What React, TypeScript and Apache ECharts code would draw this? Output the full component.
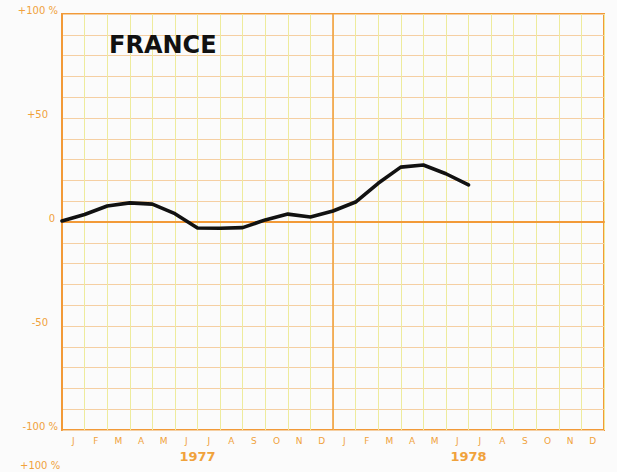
import React, { useEffect, useRef } from "react";
import * as echarts from "echarts";

const monthLabels = ["J","F","M","A","M","J","J","A","S","O","N","D","J","F","M","A","M","J","J","A","S","O","N","D"];
const yearLabels = ["1977", "1978"];
// values at month boundaries, starting Jan 1977 (index 0) through end of June 1978 (index 18)
const franceValues = [0.5, 3.6, 7.7, 9.2, 8.6, 4, -2.9, -3, -2.7, 1, 3.8, 2.4, 5.3, 9.6, 18.6, 26.4, 27.4, 23.2, 17.8];
const yLabelMap: Record<number, string> = { 100: "+100 %", 50: "+50", 0: "0", [-50]: "-50", [-100]: "-100 %" };

const ORANGE = "#f29a38";
const LABEL = "#f0a23c";

export default function App() {
  const ref = useRef<HTMLDivElement>(null);
  useEffect(() => {
    if (!ref.current) return;
    const chart = echarts.init(ref.current, null, { renderer: "svg" });
    const data = franceValues.map((v, i) => [i, v]);
    chart.setOption({
      animation: false,
      backgroundColor: "#fbfbfb",
      grid: { left: 62, right: 13, top: 14, bottom: 42, show: true, borderColor: ORANGE, borderWidth: 2, backgroundColor: "transparent" },
      xAxis: [
        {
          type: "value", min: 0, max: 24, interval: 1, position: "bottom",
          axisLine: { show: true, lineStyle: { color: ORANGE, width: 2 } },
          axisTick: { show: false }, axisLabel: { show: false },
          splitLine: { show: true, lineStyle: { color: "#eeeb9c", width: 1 } },
        },
        {
          type: "category", data: monthLabels, boundaryGap: true, position: "bottom",
          axisLine: { show: false }, axisTick: { show: false }, splitLine: { show: false },
          axisLabel: { color: LABEL, fontSize: 9, fontFamily: "DejaVu Sans", margin: 6, interval: 0 },
        },
        {
          type: "category", data: yearLabels, boundaryGap: true, position: "bottom", offset: 18,
          axisLine: { show: false }, axisTick: { show: false }, splitLine: { show: false },
          axisLabel: { color: LABEL, fontSize: 13, fontWeight: "bold", fontFamily: "DejaVu Sans", margin: 2, interval: 0 },
        },
      ],
      yAxis: {
        type: "value", min: -100, max: 100, interval: 10,
        axisLine: { show: true, lineStyle: { color: ORANGE, width: 2 } },
        axisTick: { show: false },
        splitLine: { show: true, lineStyle: { color: "#f5cfa2", width: 1 } },
        axisLabel: {
          margin: 4, color: LABEL, fontSize: 10, fontFamily: "DejaVu Sans",
          formatter: (v: number) => {
            const s = yLabelMap[v];
            if (s === undefined) return "";
            if (Math.abs(v) === 50) return "{f|" + s + "}";
            if (v === 0) return "{z|" + s + "}";
            return "{a|" + s + "}";
          },
          rich: {
            a: { color: LABEL, fontSize: 10, fontFamily: "DejaVu Sans", padding: [0, 0, 8, 0] },
            f: { color: LABEL, fontSize: 10, fontFamily: "DejaVu Sans", padding: [0, 10, 8, 0] },
            z: { color: LABEL, fontSize: 10, fontFamily: "DejaVu Sans", padding: [0, 3, 8, 0] },
          },
        },
      },
      graphic: [
        { type: "text", left: 109, top: 33, z: 10, style: { text: "FRANCE", fill: "#111", font: "bold 24px 'DejaVu Sans'" } },
        { type: "text", left: 20, top: 460, z: 10, style: { text: "+100 %", fill: LABEL, font: "10px 'DejaVu Sans'" } },
      ],
      series: [
        {
          type: "line", data: [], xAxisIndex: 0, z: 1, silent: true,
          markLine: {
            silent: true, symbol: "none", label: { show: false },
            lineStyle: { color: ORANGE, width: 1.5, type: "solid" },
            data: [{ yAxis: 0 }, { xAxis: 12 }],
          },
        },
        {
          type: "line", data, xAxisIndex: 0, z: 5, showSymbol: false, symbol: "none",
          lineStyle: { color: "#111", width: 3.6, join: "round", cap: "round" },
        },
      ],
    });
    return () => chart.dispose();
  }, []);
  return <div ref={ref} style={{ position: "fixed", left: 0, top: 0, width: 617, height: 472 }} />;
}
